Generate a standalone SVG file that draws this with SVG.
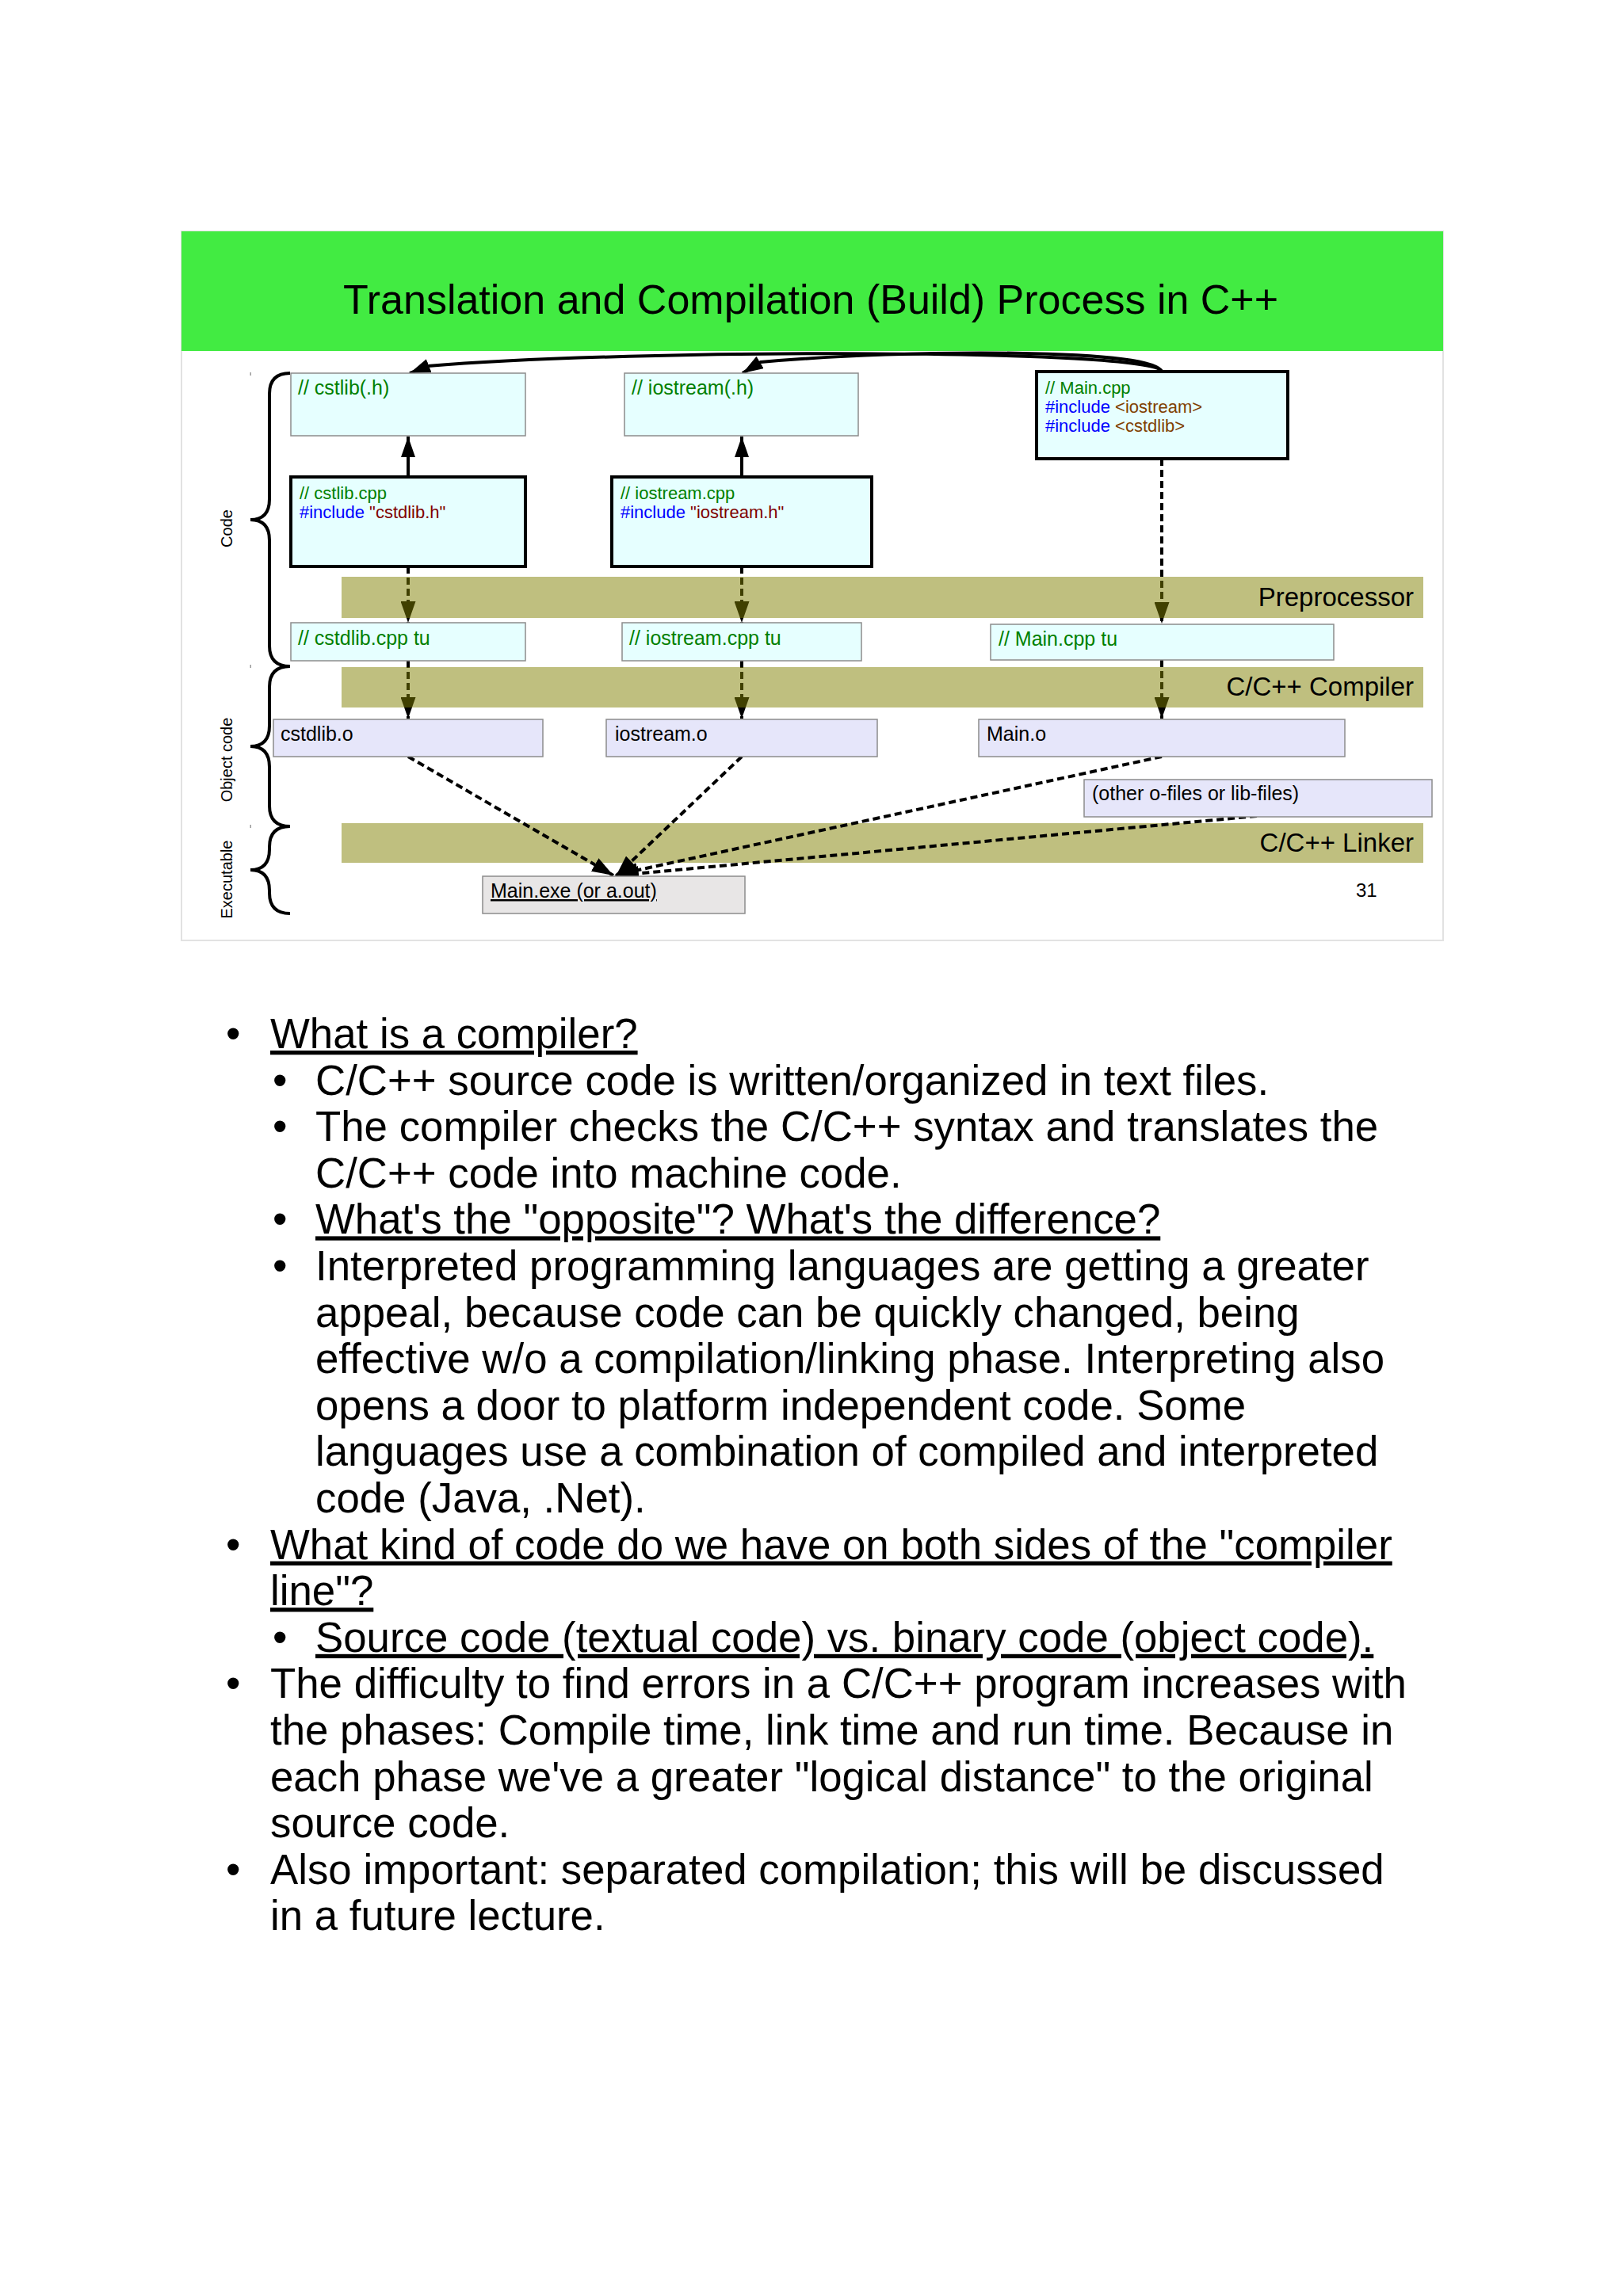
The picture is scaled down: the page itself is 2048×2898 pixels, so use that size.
<svg xmlns="http://www.w3.org/2000/svg" width="2048" height="2898" viewBox="0 0 2048 2898">
<style>
text{font-family:"Liberation Sans",Arial,Helvetica,sans-serif;}
.box-h{fill:#E6FFFF;stroke:#8C8C8C;stroke-width:1.5;}
.box-src{fill:#E6FFFF;stroke:#000;stroke-width:4;}
.box-o{fill:#E6E6FA;stroke:#8C8C8C;stroke-width:1.5;}
.box-exe{fill:#E8E6E6;stroke:#8C8C8C;stroke-width:1.5;}
.lbl{font-size:25px;fill:#000;}
.cmt{font-size:25px;fill:#008000;}
.code{font-size:22px;}
.g{fill:#008000;}
.kw{fill:#0000FF;}
.str{fill:#800000;}
.inc{fill:#804000;}
.band{fill:#808000;fill-opacity:0.5;}
.bandlbl{font-size:33px;fill:#000;text-anchor:end;}
.solid{fill:none;stroke:#000;stroke-width:4;marker-end:url(#ah);}
.dash{fill:none;stroke:#000;stroke-width:4;stroke-dasharray:9 5;marker-end:url(#ahd);}
.brace{fill:none;stroke:#000;stroke-width:4;}
.side{font-size:20px;fill:#000;text-anchor:middle;}
.body{font-size:52.8px;fill:#000;}
.u{text-decoration:underline;}
</style>
<defs>
<marker id="ah" viewBox="0 0 26 18" refX="26" refY="9" markerWidth="26" markerHeight="18" orient="auto" markerUnits="userSpaceOnUse"><path d="M0,0 L26,9 L0,18 z" fill="#000" stroke="none"/></marker>
<marker id="ahd" viewBox="0 0 27 19" refX="27" refY="9.5" markerWidth="27" markerHeight="19" orient="auto" markerUnits="userSpaceOnUse"><path d="M0,0 L27,9.5 L0,19 z" fill="#000" stroke="none"/></marker>
</defs>
<rect x="0" y="0" width="2048" height="2898" fill="#FFFFFF"/>
<g id="slide-frame">
<rect x="229" y="292" width="1592" height="895" fill="#FFFFFF" stroke="#E2E2E2" stroke-width="2"/>
</g>
<g id="title">
<rect x="229" y="292" width="1592" height="151" fill="#42EB42"/>
<text x="1023" y="396" font-size="52" text-anchor="middle" fill="#000">Translation and Compilation (Build) Process in C++</text>
</g>
<g id="band-linker">
<rect class="band" x="431" y="1039" width="1365" height="50"/>
<text class="bandlbl" x="1784" y="1075">C/C++ Linker</text>
</g>
<g id="connectors">
<path class="solid" d="M1466,469 C1460,440 800,440 540,462 L517,471"/>
<path class="solid" d="M1466,469 C1455,440 1150,440 960,457 L937,471"/>
<path class="solid" d="M515,602 L515,551"/>
<path class="solid" d="M936,602 L936,551"/>
<path class="dash" d="M515,715 L515,786"/>
<path class="dash" d="M936,715 L936,786"/>
<path class="dash" d="M1466,579 L1466,787"/>
<path class="dash" d="M515,834 L515,907"/>
<path class="dash" d="M936,834 L936,907"/>
<path class="dash" d="M1466,833 L1466,907"/>
<path class="dash" d="M515,955 L774,1105"/>
<path class="dash" d="M936,955 L777,1106"/>
<path class="dash" d="M1466,955 L778,1104"/>
<path class="dash" d="M1586,1030 L779,1105"/>
</g>
<g id="band-preprocessor">
<rect class="band" x="431" y="728" width="1365" height="52"/>
<text class="bandlbl" x="1784" y="765">Preprocessor</text>
</g>
<g id="band-compiler">
<rect class="band" x="431" y="842" width="1365" height="51"/>
<text class="bandlbl" x="1784" y="878">C/C++ Compiler</text>
</g>
<g id="braces">
<path class="brace" d="M366,471 Q340,471 340,497 L340,630 Q340,656 316,656 Q340,656 340,682 L340,815 Q340,841 366,841"/>
<path class="brace" d="M366,841 Q340,841 340,867 L340,916 Q340,942 316,942 Q340,942 340,968 L340,1017 Q340,1043 366,1043"/>
<path class="brace" d="M366,1043 Q340,1043 340,1069 L340,1072 Q340,1098 316,1098 Q340,1098 340,1124 L340,1127 Q340,1153 366,1153"/>
<rect x="315.5" y="470" width="1.5" height="4" fill="#999"/>
<rect x="315.5" y="839" width="1.5" height="4" fill="#999"/>
<rect x="315.5" y="1041" width="1.5" height="4" fill="#999"/>
<text class="side" transform="translate(293,667) rotate(-90)">Code</text>
<text class="side" transform="translate(293,959) rotate(-90)">Object code</text>
<text class="side" transform="translate(293,1110) rotate(-90)">Executable</text>
</g>
<g id="node-cstlib-h">
<rect class="box-h" x="367" y="471" width="296" height="79"/>
<text class="cmt" x="376" y="498">// cstlib(.h)</text>
</g>
<g id="node-iostream-h">
<rect class="box-h" x="788" y="471" width="295" height="79"/>
<text class="cmt" x="797" y="498">// iostream(.h)</text>
</g>
<g id="node-main-cpp">
<rect class="box-src" x="1308" y="469" width="317" height="110"/>
<text class="code" x="1319" y="497"><tspan class="g">// Main.cpp</tspan></text>
<text class="code" x="1319" y="521"><tspan class="kw">#include</tspan> <tspan class="inc">&lt;iostream&gt;</tspan></text>
<text class="code" x="1319" y="545"><tspan class="kw">#include</tspan> <tspan class="inc">&lt;cstdlib&gt;</tspan></text>
</g>
<g id="node-cstlib-cpp">
<rect class="box-src" x="367" y="602" width="296" height="113"/>
<text class="code" x="378" y="630"><tspan class="g">// cstlib.cpp</tspan></text>
<text class="code" x="378" y="654"><tspan class="kw">#include</tspan> <tspan class="str">"cstdlib.h"</tspan></text>
</g>
<g id="node-iostream-cpp">
<rect class="box-src" x="772" y="602" width="328" height="113"/>
<text class="code" x="783" y="630"><tspan class="g">// iostream.cpp</tspan></text>
<text class="code" x="783" y="654"><tspan class="kw">#include</tspan> <tspan class="str">"iostream.h"</tspan></text>
</g>
<g id="node-cstdlib-tu">
<rect class="box-h" x="367" y="786" width="296" height="48"/>
<text class="cmt" x="376" y="814">// cstdlib.cpp tu</text>
</g>
<g id="node-iostream-tu">
<rect class="box-h" x="785" y="786" width="302" height="48"/>
<text class="cmt" x="794" y="814">// iostream.cpp tu</text>
</g>
<g id="node-main-tu">
<rect class="box-h" x="1250" y="788" width="433" height="45"/>
<text class="cmt" x="1260" y="815">// Main.cpp tu</text>
</g>
<g id="node-cstdlib-o">
<rect class="box-o" x="345" y="908" width="340" height="47"/>
<text class="lbl" x="354" y="935">cstdlib.o</text>
</g>
<g id="node-iostream-o">
<rect class="box-o" x="765" y="908" width="342" height="47"/>
<text class="lbl" x="776" y="935">iostream.o</text>
</g>
<g id="node-main-o">
<rect class="box-o" x="1235" y="908" width="462" height="47"/>
<text class="lbl" x="1245" y="935">Main.o</text>
</g>
<g id="node-other">
<rect class="box-o" x="1368" y="984" width="439" height="47"/>
<text class="lbl" x="1378" y="1010">(other o-files or lib-files)</text>
</g>
<g id="node-main-exe">
<rect class="box-exe" x="609" y="1106" width="331" height="47"/>
<text class="lbl u" x="619" y="1133">Main.exe (or a.out)</text>
</g>
<g id="page-number">
<text x="1711" y="1132" font-size="24" fill="#000">31</text>
</g>
<g id="notes">
<text class="body" x="285" y="1323">•</text>
<text class="body u" x="341" y="1323">What is a compiler?</text>
<text class="body" x="344" y="1381.6">•</text>
<text class="body" x="398" y="1381.6">C/C++ source code is written/organized in text files.</text>
<text class="body" x="344" y="1440.2">•</text>
<text class="body" x="398" y="1440.2">The compiler checks the C/C++ syntax and translates the</text>
<text class="body" x="398" y="1498.8">C/C++ code into machine code.</text>
<text class="body" x="344" y="1557.4">•</text>
<text class="body u" x="398" y="1557.4">What's the "opposite"? What's the difference?</text>
<text class="body" x="344" y="1616">•</text>
<text class="body" x="398" y="1616">Interpreted programming languages are getting a greater</text>
<text class="body" x="398" y="1674.6">appeal, because code can be quickly changed, being</text>
<text class="body" x="398" y="1733.2">effective w/o a compilation/linking phase. Interpreting also</text>
<text class="body" x="398" y="1791.8">opens a door to platform independent code. Some</text>
<text class="body" x="398" y="1850.4">languages use a combination of compiled and interpreted</text>
<text class="body" x="398" y="1909">code (Java, .Net).</text>
<text class="body" x="285" y="1967.6">•</text>
<text class="body u" x="341" y="1967.6">What kind of code do we have on both sides of the "compiler</text>
<text class="body u" x="341" y="2026.2">line"?</text>
<text class="body" x="344" y="2084.8">•</text>
<text class="body u" x="398" y="2084.8">Source code (textual code) vs. binary code (object code).</text>
<text class="body" x="285" y="2143.4">•</text>
<text class="body" x="341" y="2143.4">The difficulty to find errors in a C/C++ program increases with</text>
<text class="body" x="341" y="2202">the phases: Compile time, link time and run time. Because in</text>
<text class="body" x="341" y="2260.6">each phase we've a greater "logical distance" to the original</text>
<text class="body" x="341" y="2319.2">source code.</text>
<text class="body" x="285" y="2377.8">•</text>
<text class="body" x="341" y="2377.8">Also important: separated compilation; this will be discussed</text>
<text class="body" x="341" y="2436.4">in a future lecture.</text>
</g>
</svg>
